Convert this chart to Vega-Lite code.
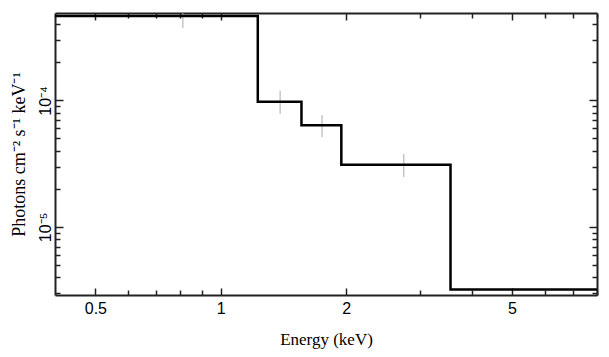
{
  "$schema": "https://vega.github.io/schema/vega-lite/v6.json",
  "width": 542,
  "height": 282,
  "autosize": "none",
  "padding": {"left": 55, "top": 13, "right": 12, "bottom": 62},
  "background": "white",
  "config": {
    "view": {"stroke": null},
    "axis": {
      "grid": false,
      "domainColor": "#222",
      "domainWidth": 2,
      "tickColor": "#222",
      "tickWidth": 1.5,
      "labelFont": "Liberation Sans",
      "labelFontSize": 16,
      "labelColor": "black",
      "titleFont": "Liberation Serif",
      "titleFontSize": 17,
      "titleFontWeight": "normal",
      "titleColor": "black"
    }
  },
  "datasets": {
    "model": [
      {"energy": 0.4, "flux": 0.000464},
      {"energy": 1.227, "flux": 0.0000975},
      {"energy": 1.562, "flux": 0.0000637},
      {"energy": 1.947, "flux": 0.000031},
      {"energy": 3.56, "flux": 0.0000032},
      {"energy": 8.0, "flux": 0.0000032}
    ],
    "obs": [
      {"energy": 0.811, "lo": 0.000372, "hi": 0.00055},
      {"energy": 1.388, "lo": 0.0000784, "hi": 0.000119},
      {"energy": 1.75, "lo": 0.0000511, "hi": 0.0000764},
      {"energy": 2.75, "lo": 0.0000248, "hi": 0.0000378}
    ]
  },
  "layer": [
    {
      "data": {"name": "obs"},
      "mark": {"type": "rule", "color": "#aaaaaa", "strokeWidth": 1, "clip": true},
      "encoding": {
        "x": {
          "field": "energy", "type": "quantitative",
          "scale": {"type": "log", "domain": [0.4, 8.0], "nice": false},
          "axis": {
            "orient": "bottom",
            "title": "Energy (keV)",
            "titlePadding": 13,
            "values": [0.5, 0.6, 0.7, 0.8, 0.9, 1, 2, 3, 4, 5, 6, 7, 8],
            "labelExpr": "indexof([0.5, 1, 2, 5], datum.value) >= 0 ? datum.label : ''",
            "format": "~g",
            "tickSize": {"condition": {"test": "indexof([0.5, 1, 2, 5], datum.value) >= 0", "value": -7}, "value": -5},
            "labelPadding": 12,
            "labelFlush": false,
            "labelOverlap": false
          }
        },
        "y": {
          "field": "lo", "type": "quantitative",
          "scale": {"type": "log", "domain": [0.0000029, 0.00049], "nice": false},
          "axis": {
            "orient": "left",
            "title": "Photons cm⁻² s⁻¹ keV⁻¹",
            "titleFontSize": 18,
            "titlePadding": 6,
            "values": [0.000003, 0.000004, 0.000005, 0.000006, 0.000007, 0.000008, 0.000009, 0.00001, 0.00002, 0.00003, 0.00004, 0.00005, 0.00006, 0.00007, 0.00008, 0.00009, 0.0001, 0.0002, 0.0003, 0.0004],
            "labelExpr": "datum.value == 0.0001 ? '10⁻⁴' : (datum.value == 0.00001 ? '10⁻⁵' : '')",
            "tickSize": {"condition": {"test": "datum.value == 0.0001 || datum.value == 0.00001", "value": -8}, "value": -5},
            "labelAngle": -90,
            "labelAlign": "center",
            "labelBaseline": "bottom",
            "labelPadding": 10,
            "labelFlush": false,
            "labelOverlap": false
          }
        },
        "y2": {"field": "hi"}
      }
    },
    {
      "data": {"name": "model"},
      "mark": {"type": "line", "interpolate": "step-after", "color": "black", "strokeWidth": 2.5, "clip": true},
      "encoding": {
        "x": {
          "field": "energy", "type": "quantitative",
          "scale": {"type": "log", "domain": [0.4, 8.0], "nice": false},
          "axis": {
            "orient": "top",
            "title": null,
            "values": [0.5, 0.6, 0.7, 0.8, 0.9, 1, 2, 3, 4, 5, 6, 7, 8],
            "labels": false,
            "tickSize": {"condition": {"test": "indexof([0.5, 1, 2, 5], datum.value) >= 0", "value": -7}, "value": -5}
          }
        },
        "y": {
          "field": "flux", "type": "quantitative",
          "scale": {"type": "log", "domain": [0.0000029, 0.00049], "nice": false},
          "axis": {
            "orient": "right",
            "title": null,
            "values": [0.000003, 0.000004, 0.000005, 0.000006, 0.000007, 0.000008, 0.000009, 0.00001, 0.00002, 0.00003, 0.00004, 0.00005, 0.00006, 0.00007, 0.00008, 0.00009, 0.0001, 0.0002, 0.0003, 0.0004],
            "labels": false,
            "tickSize": {"condition": {"test": "datum.value == 0.0001 || datum.value == 0.00001", "value": -8}, "value": -5}
          }
        }
      }
    }
  ],
  "resolve": {"axis": {"x": "independent", "y": "independent"}}
}
